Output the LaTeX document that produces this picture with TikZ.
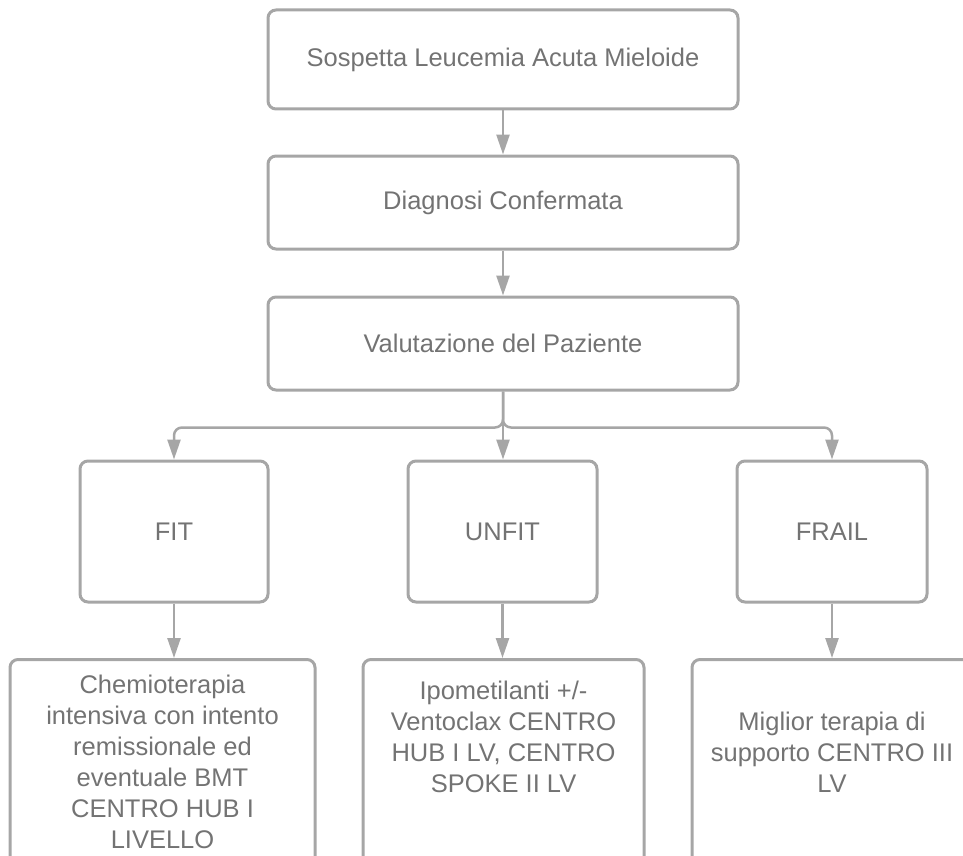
\documentclass[tikz,border=0pt]{standalone}
\usepackage{fontspec}
\setmainfont{Liberation Sans}
\usetikzlibrary{arrows.meta}
\definecolor{lineGray}{HTML}{A6A6A6}
\definecolor{textGray}{HTML}{737373}

\begin{document}
\begin{tikzpicture}
		[x=1pt,y=-1pt,
		boxDecorate/.style={shape=rectangle,draw=lineGray,line width=3pt,rounded corners=8pt,inner sep=0pt,text=textGray,font=\fontsize{25.5}{31}\selectfont,align=center},%
		textDecorate/.style={inner sep=0pt,text=textGray,font=\fontsize{25.5}{31}\selectfont,align=center},%
		lineDecorate/.style={draw=lineGray,line width=2.5pt,rounded corners=8pt,-{Triangle[length=20pt,width=13pt]}}]
		\clip (0,0) rectangle (963,856);
		%% top boxes
		\foreach \nodename/\y/\h/\txt in {
			suspect/59.5/99/Sospetta Leucemia Acuta Mieloide, diagnosis/202.5/93/Diagnosi Confermata, evaluation/343.5/93/Valutazione del Paziente}
		{
			\node (\nodename) at (503,\y) [boxDecorate,minimum width=470pt,minimum height=\h pt] {\txt};
		}
		%% patient classes
		\foreach \nodename/\x/\w/\txt in {fit/174/188/FIT, unfit/502.5/189/UNFIT, frail/832/190/FRAIL}
		{
			\node (\nodename) at (\x,531.5) [boxDecorate,minimum width=\w pt,minimum height=141pt] {\txt};
		}
		%% therapies (boxes run past the edge)
		\foreach \nodename/\x/\w in {intensive/162.5/305, hypomethyl/503.5/281, support/832/280}
		{
			\node (\nodename) at (\x,658) [boxDecorate,anchor=north,minimum width=\w pt,minimum height=260pt] {};
		}
		\node (intensiveText) at (162.5,762) [textDecorate] {Chemioterapia\\intensiva con intento\\remissionale ed\\eventuale BMT\\CENTRO HUB I\\LIVELLO};
		\node (hypomethylText) at (503.5,737) [textDecorate] {Ipometilanti +/-\\Ventoclax CENTRO\\HUB I LV, CENTRO\\SPOKE II LV};
		\node (supportText) at (832,752) [textDecorate] {Miglior terapia di\\supporto CENTRO III\\LV};
		%% edges
		\path
		\foreach \startnode/\endnode in {suspect/diagnosis, diagnosis/evaluation, evaluation/unfit, fit/intensive, unfit/hypomethyl, frail/support}
		{
			(\startnode.south) edge[lineDecorate] (\startnode.south |- \endnode.north)
		};
		\draw[lineDecorate] (evaluation.south) -- ++(0,36) -| (fit.north);
		\draw[lineDecorate] (evaluation.south) -- ++(0,36) -| (frail.north);
	\end{tikzpicture}
\end{document}
